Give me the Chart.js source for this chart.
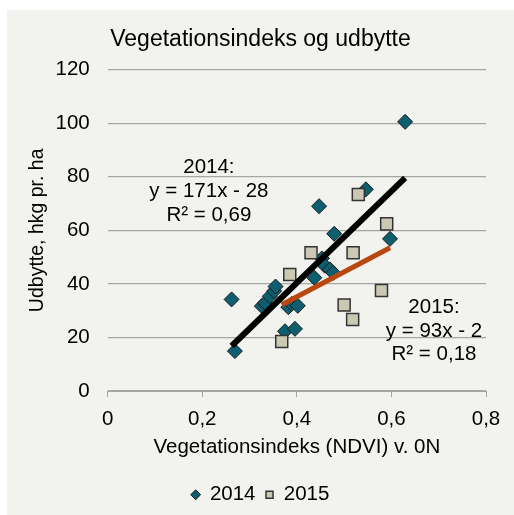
<!DOCTYPE html>
<html>
<head>
<meta charset="utf-8">
<script src="https://cdn.jsdelivr.net/npm/chart.js@4/dist/chart.umd.min.js"></script>
<style>
  body { margin: 0; background: #fff; }
  #painel { position: absolute; left: 7px; top: 10px; width: 507px; height: 505px; background: #F2F2EE; }
</style>
</head>
<body>
<div id="painel"><canvas id="graf" width="507" height="505"></canvas></div>
<script>
// ─── DADOS ───────────────────────────────────────────────
var ndvi2014 = [0.262, 0.269, 0.326, 0.333, 0.343, 0.352, 0.355, 0.375, 0.382, 0.389, 0.396, 0.402, 0.437, 0.447, 0.453, 0.459, 0.470, 0.477, 0.479, 0.546, 0.597, 0.629];
var udb2014  = [34.2, 14.9, 31.7, 32.9, 35.4, 37.3, 39.0, 22.3, 31.3, 32.5, 23.2, 31.8, 42.3, 69.0, 49.5, 46.8, 45.4, 44.1, 58.7, 75.3, 56.8, 100.5];
var ndvi2015 = [0.368, 0.385, 0.430, 0.500, 0.518, 0.519, 0.530, 0.579, 0.590];
var udb2015  = [18.5, 43.5, 51.6, 32.1, 26.7, 51.6, 73.4, 37.5, 62.4];
// tendenslinjer (endepunkter aflæst)
var trendX2014 = [0.262, 0.629];
var trendY2014 = [16.8, 79.6];
var trendX2015 = [0.368, 0.597];
var trendY2015 = [32.2, 53.5];
var xTicks = [0, 0.2, 0.4, 0.6, 0.8];
var yTicks = [0, 20, 40, 60, 80, 100, 120];

function punkter(xs, ys) {
  return xs.map(function(x, i) { return { x: x, y: ys[i] }; });
}

// tekst til ligningerne, placeret i dataenheder
var ligninger = [
  { x: 0.214, y: [83.5, 74.6, 65.5], linjer: ['2014:', 'y = 171x - 28', 'R\u00B2 = 0,69'] },
  { x: 0.690, y: [31.3, 22.3, 13.6], linjer: ['2015:', 'y = 93x - 2', 'R\u00B2 = 0,18'] }
];

var ligningPlugin = {
  id: 'ligninger',
  afterDatasetsDraw: function(chart) {
    var ctx = chart.ctx, sx = chart.scales.x, sy = chart.scales.y;
    ctx.save();
    ctx.font = '20.5px "Liberation Sans", Arial, sans-serif';
    ctx.fillStyle = '#000';
    ctx.textAlign = 'center';
    ctx.textBaseline = 'middle';
    ligninger.forEach(function(l) {
      l.linjer.forEach(function(t, i) {
        ctx.fillText(t, sx.getPixelForValue(l.x), sy.getPixelForValue(l.y[i]));
      });
    });
    ctx.restore();
  }
};

var font = '"Liberation Sans", Arial, sans-serif';
Chart.defaults.font.family = font;
Chart.defaults.color = '#000';

new Chart(document.getElementById('graf').getContext('2d'), {
  type: 'scatter',
  data: {
    datasets: [
      { label: '2014', data: punkter(ndvi2014, udb2014), pointStyle: 'rectRot', pointRadius: 7.5, pointHoverRadius: 7.5,
        backgroundColor: '#0D5F70', borderColor: '#1a1a1a', borderWidth: 1, order: 3 },
      { label: '2015', data: punkter(ndvi2015, udb2015), pointStyle: 'rect', pointRadius: 8.5, pointHoverRadius: 8.5,
        backgroundColor: '#CBC9B4', borderColor: '#333', borderWidth: 1.5, order: 2 },
      { label: 'trend2014', type: 'line', data: punkter(trendX2014, trendY2014), borderColor: '#000', borderWidth: 6,
        pointRadius: 0, fill: false, order: 0 },
      { label: 'trend2015', type: 'line', data: punkter(trendX2015, trendY2015), borderColor: '#B8480F', borderWidth: 5,
        pointRadius: 0, fill: false, order: 1 }
    ]
  },
  options: {
    responsive: false,
    animation: false,
    layout: { padding: 0 },
    plugins: {
      title: { display: true, text: 'Vegetationsindeks og udbytte', font: { size: 23, weight: 'normal' }, color: '#000',
        padding: { top: 16, bottom: 16 } },
      legend: {
        position: 'bottom',
        labels: {
          usePointStyle: true, boxHeight: 7, boxWidth: 8, padding: 10, color: '#000', font: { size: 20.5 },
          filter: function(item) { return item.text.indexOf('trend') !== 0; },
          sort: function(a, b) { return a.datasetIndex - b.datasetIndex; }
        }
      },
      tooltip: { enabled: false }
    },
    scales: {
      x: {
        type: 'linear', min: 0, max: 0.8,
        afterBuildTicks: function(s) { s.ticks = xTicks.map(function(v) { return { value: v }; }); },
        afterFit: function(s) { s.height = 83.5; },
        ticks: { font: { size: 20.5 }, color: '#000', padding: 10,
          callback: function(v) { return v === 0 ? '0' : v.toFixed(1).replace('.', ','); } },
        grid: { drawOnChartArea: false, drawTicks: true, tickLength: 6, color: '#A6A6A6', lineWidth: 1 },
        border: { display: true, color: '#A6A6A6', width: 1 },
        title: { display: true, text: 'Vegetationsindeks (NDVI) v. 0N', font: { size: 20.5 }, color: '#000', padding: { top: 4, bottom: 15 } }
      },
      y: {
        type: 'linear', min: 0, max: 120,
        afterBuildTicks: function(s) { s.ticks = yTicks.map(function(v) { return { value: v }; }); },
        afterFit: function(s) { s.width = 100.7; },
        ticks: { font: { size: 20.5 }, color: '#000', padding: 18 },
        grid: { drawTicks: false, color: '#A6A6A6', lineWidth: 1.3 },
        border: { display: false },
        title: { display: true, text: 'Udbytte, hkg pr. ha', font: { size: 19.5 }, color: '#000', padding: { top: 19, bottom: 0 } }
      },
      // tom akse til højre, holder plotområdet fri af kanten
      yHojre: {
        type: 'linear', position: 'right', min: 0, max: 120,
        afterFit: function(s) { s.width = 28; },
        ticks: { display: false },
        grid: { display: false, drawTicks: false },
        border: { display: false }
      }
    }
  },
  plugins: [ligningPlugin]
});
</script>
</body>
</html>
